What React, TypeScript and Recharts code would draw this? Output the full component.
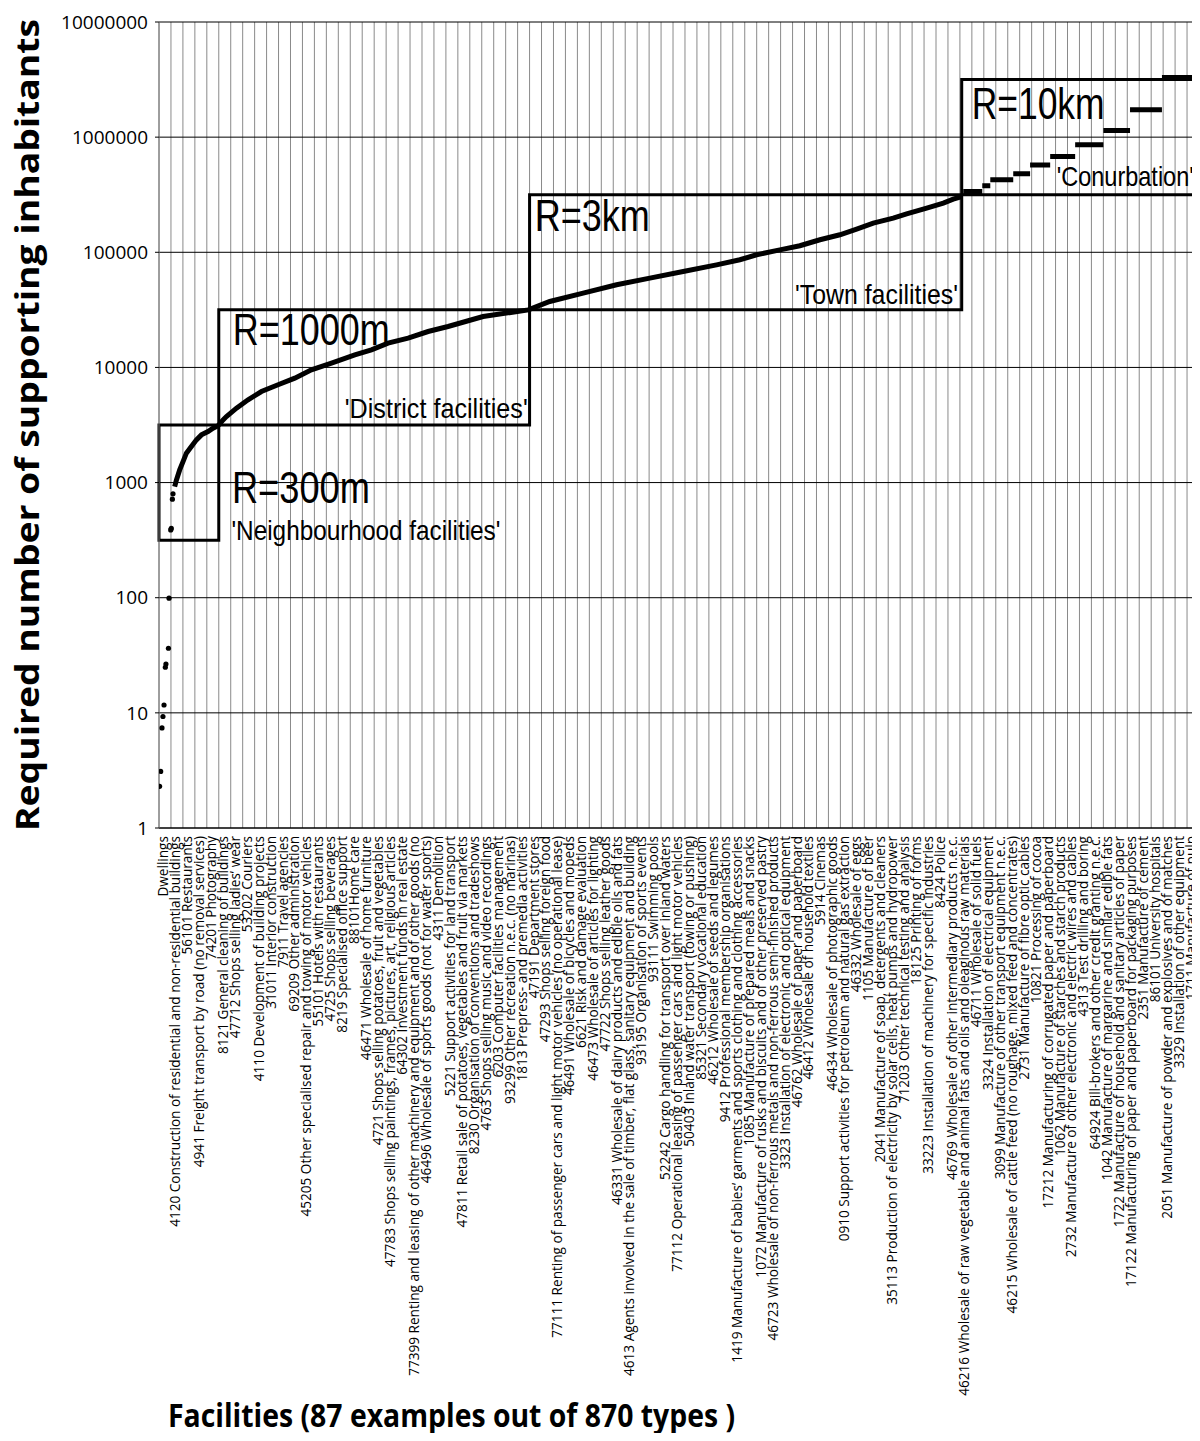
import {
  CartesianGrid,
  ComposedChart,
  Line,
  ReferenceArea,
  ReferenceDot,
  Scatter,
  XAxis,
  YAxis,
} from "recharts";

const facilityLabels = [
  "Dwellings",
  "4120 Construction of residential and non-residential buildings",
  "56101 Restaurants",
  "4941 Freight transport by road (no removal services)",
  "74201 Photography",
  "8121 General cleaning of buildings",
  "47712 Shops selling ladies’ wear",
  "53202 Couriers",
  "4110 Development of building projects",
  "31011 Interior construction",
  "7911 Travel agencies",
  "69209 Other administration",
  "45205 Other specialised repair and towing of motor vehicles",
  "55101 Hotels with restaurants",
  "4725 Shops selling beverages",
  "8219 Specialised office support",
  "88101Home care",
  "46471 Wholesale of home furniture",
  "4721 Shops selling potatoes, fruit and vegetables",
  "47783 Shops selling paintings, frames, pictures, art, religious articles",
  "64302 Investment funds in real estate",
  "77399 Renting and leasing of other machinery and equipment and of other goods (no",
  "46496 Wholesale of sports goods (not for water sports)",
  "4311 Demolition",
  "5221 Support activities for land transport",
  "47811 Retail sale of potatoes, vegetables and fruit via markets",
  "8230 Organisation of conventions and tradeshows",
  "4763 Shops selling music and video recordings",
  "6203 Computer facilities management",
  "93299 Other recreation n.e.c. (no marinas)",
  "1813 Prepress- and premedia activities",
  "47191 Department stores",
  "47293 Shops selling foreign food",
  "77111 Renting of passenger cars and light motor vehicles (no operational lease)",
  "46491 Wholesale of bicycles and mopeds",
  "6621 Risk and damage evaluation",
  "46473 Wholesale of articles for lighting",
  "47722 Shops selling leather goods",
  "46331 Wholesale of dairy products and edible oils and fats",
  "4613 Agents involved in the sale of timber, flat glass, sanitary equipment and building",
  "93195 Organisation of sports events",
  "93111 Swimming pools",
  "52242 Cargo handling for transport over inland waters",
  "77112 Operational leasing of passenger cars and light motor vehicles",
  "50403 Inland water transport (towing or pushing)",
  "85321 Secondary vocational education",
  "46212 Wholesale of seeds and legumes",
  "9412 Professional membership organisations",
  "1419 Manufacture of babies’ garments and sports clothing and clothing accessories",
  "1085 Manufacture of prepared meals and snacks",
  "1072 Manufacture of rusks and biscuits and of other preserved pastry",
  "46723 Wholesale of non-ferrous metals and non-ferrous semi-finished products",
  "3323 Installation of electronic and optical equipment",
  "46762 Wholesale of paper and paperboard",
  "46412 Wholesale of household textiles",
  "5914 Cinemas",
  "46434 Wholesale of photographic goods",
  "0910 Support activities for petroleum and natural gas extraction",
  "46332 Wholesale of eggs",
  "1105 Manufacture of beer",
  "2041 Manufacture of soap, detergents and cleaners",
  "35113 Production of electricity by solar cells, heat pumps and hydropower",
  "71203 Other technical testing and analysis",
  "18125 Printing of forms",
  "33223 Installation of machinery for specific industries",
  "8424 Police",
  "46769 Wholesale of other intermediary products n.e.c.",
  "46216 Wholesale of raw vegetable and animal fats and oils and oleaginous raw materials",
  "46711 Wholesale of solid fuels",
  "3324 Installation of electrical equipment",
  "3099 Manufacture of other transport equipment n.e.c.",
  "46215 Wholesale of cattle feed (no roughage, mixed feed and concentrates)",
  "2731 Manufacture of fibre optic cables",
  "10821 Processing of cocoa",
  "17212 Manufacturing of corrugated paper and paperboard",
  "1062 Manufacture of starches and starch products",
  "2732 Manufacture of other electronic and electric wires and cables",
  "4313 Test drilling and boring",
  "64924 Bill-brokers and other credit granting n.e.c.",
  "1042 Manufacture of margarine and similar edible fats",
  "1722 Manufacture of household and sanitary articles of paper",
  "17122 Manufacturing of paper and paperboard for packaging purposes",
  "2351 Manufacture of cement",
  "86101 University hospitals",
  "2051 Manufacture of powder and explosives and of matches",
  "3329 Installation of other equipment",
  "1711 Manufacture of pulp",
];

const yTicks = [1, 10, 100, 1000, 10000, 100000, 1000000, 10000000];

// isolated small values at the far left (position in facility units)
const lowDotPos = [0.05, 0.14, 0.25, 0.33, 0.42, 0.53, 0.58, 0.79, 0.84, 0.98, 1.03, 1.12, 1.17];
const lowDotValue = [2.3, 3.1, 7.4, 9.3, 11.7, 24.9, 26.5, 36.4, 99, 388, 400, 718, 798];

// the dense part of the curve
const curvePos = [
  1.31, 1.46, 1.73, 2.01, 2.29, 2.71, 3.13, 3.55, 4.1, 4.52, 4.94, 5.36, 5.64,
  6.48, 7.45, 8.57, 9.96, 11.36, 12.75, 14.43, 16.38, 17.77, 19.16, 20.84,
  22.51, 24.18, 27.11, 30.9, 32.69, 35.48, 38.28, 41.06, 43.85, 46.64, 48.59,
  49.99, 51.94, 53.61, 55.29, 56.96, 58.36, 59.75, 61.42, 62.54, 64.22, 65.61,
  66.44, 67.15,
];
const curveValue = [
  923, 1055, 1289, 1522, 1800, 2055, 2349, 2596, 2774, 2970, 3110, 3506, 3743,
  4425, 5230, 6175, 7065, 8075, 9530, 10890, 12860, 14220, 16260, 17960,
  20510, 22660, 27700, 31600, 37400, 44200, 52200, 59700, 68100, 77800, 86100,
  95100, 105000, 114000, 128500, 142000, 159000, 179000, 198000, 216000,
  242000, 267000, 289000, 305000,
];

// plateaus at the top end
const stepFrom = [67.28, 68.87, 69.54, 71.46, 72.87, 74.55, 76.64, 79.0, 81.23, 83.9];
const stepTo = [68.87, 69.54, 71.46, 72.87, 74.55, 76.64, 79.0, 81.23, 83.9, 87];
const stepValue = [337000, 378000, 427000, 481000, 572000, 679000, 859000, 1140000, 1730000, 3300000];

const zoneNames = ["R=300m", "R=1000m", "R=3km", "R=10km"];
const zoneCaptions = [
  "'Neighbourhood facilities'",
  "'District facilities'",
  "'Town facilities'",
  "'Conurbation'",
];
const zoneFrom = [0, 5, 31, 67.15];
const zoneTo = [5, 31, 67.15, 87];
const zoneLow = [316, 3162, 31623, 316228];
const zoneHigh = [3162, 31623, 316228, 3162278];

// where the texts sit (baseline-left, in chart units) and how wide they run
const namePos = [
  [6.1, 667],
  [6.17, 15700],
  [31.44, 151700],
  [67.98, 1436000],
];
const nameWidth = [138, 157, 115, 133];
const captionPos = [
  [6.06, 318],
  [15.54, 3630],
  [53.2, 35700],
  [75.1, 373000],
];
const captionWidth = [269, 183, 163, 137];

const annotationFont = "'Liberation Sans', Arial, sans-serif";
const sans = "'Open Sans', 'Noto Sans', sans-serif";

const lowDots = lowDotPos.map((u, i) => ({ u, v: lowDotValue[i] }));
const curve = curvePos.map((u, i) => ({ u, v: curveValue[i] }));
const steps = stepFrom.flatMap((u, i) => [
  { u, v: stepValue[i] },
  { u: stepTo[i], v: stepValue[i] },
  { u: stepTo[i], v: null },
]);
const boundaries = [...facilityLabels.map((_, i) => i), facilityLabels.length];
const centers = facilityLabels.map((_, i) => i + 0.5);

function EmptyTick() {
  return null;
}

function FacilityTick(props: any) {
  const { x, y, payload } = props;
  const label = facilityLabels[Math.floor(payload.value)];
  return (
    <text
      x={x}
      y={y}
      dy="0.22em"
      transform={`rotate(-90, ${x}, ${y})`}
      textAnchor="end"
      fontSize={13.6}
      fontFamily={sans}
      fill="#000"
    >
      {label}
    </text>
  );
}

function AnnotationText(props: any) {
  const { viewBox, text, size, width } = props;
  return (
    <text
      x={viewBox.x + viewBox.width / 2}
      y={viewBox.y + viewBox.height / 2}
      fontSize={size}
      fontFamily={annotationFont}
      textLength={width}
      lengthAdjust="spacingAndGlyphs"
      fill="#000"
    >
      {text}
    </text>
  );
}

function YTitle(props: any) {
  const { viewBox } = props;
  const x = viewBox.x + 31;
  const y = viewBox.y + viewBox.height / 2;
  return (
    <text
      x={x}
      y={y}
      transform={`rotate(-90, ${x}, ${y})`}
      textAnchor="middle"
      fontSize={33}
      fontWeight="bold"
      fontFamily={sans}
      textLength={812}
      lengthAdjust="spacingAndGlyphs"
      fill="#000"
    >
      Required number of supporting inhabitants
    </text>
  );
}

function XTitle(props: any) {
  const { viewBox } = props;
  return (
    <text
      x={viewBox.x + 9}
      y={viewBox.y + viewBox.height - 6}
      fontSize={32}
      fontWeight="bold"
      fontFamily={sans}
      textLength={567}
      lengthAdjust="spacingAndGlyphs"
      fill="#000"
    >
      Facilities (87 examples out of 870 types )
    </text>
  );
}

export default function App() {
  return (
    <div style={{ width: 1192, height: 1425, background: "#fff" }}>
      <ComposedChart
        width={1192}
        height={1425}
        margin={{ top: 14, right: 1, bottom: 0, left: 0 }}
      >
        <XAxis
          xAxisId="grid"
          type="number"
          dataKey="u"
          domain={[0, 87]}
          allowDataOverflow
          ticks={boundaries}
          interval={0}
          orientation="top"
          height={0}
          tick={EmptyTick}
          tickLine={false}
          axisLine={false}
        />
        <XAxis
          xAxisId="cat"
          type="number"
          dataKey="u"
          domain={[0, 87]}
          allowDataOverflow
          ticks={centers}
          interval={0}
          tick={<FacilityTick />}
          tickLine={false}
          axisLine={{ stroke: "#000" }}
          height={605}
          label={<XTitle />}
        />
        <YAxis
          type="number"
          dataKey="v"
          scale="log"
          domain={[1, 10000000]}
          allowDataOverflow
          ticks={yTicks}
          interval={0}
          width={151}
          tickSize={4}
          tickMargin={7}
          tick={{ fontSize: 19, fill: "#000", fontFamily: sans }}
          tickLine={{ stroke: "#000" }}
          axisLine={{ stroke: "#777" }}
          label={<YTitle />}
        />
        <CartesianGrid xAxisId="grid" horizontal={false} stroke="#8a8a8a" />
        <CartesianGrid xAxisId="cat" vertical={false} stroke="#000" />

        {zoneNames.map((name, i) => (
          <ReferenceArea
            key={name}
            xAxisId="cat"
            x1={zoneFrom[i]}
            x2={zoneTo[i]}
            y1={zoneLow[i]}
            y2={zoneHigh[i]}
            fill="none"
            fillOpacity={0}
            stroke="#000"
            strokeWidth={3}
            ifOverflow="visible"
          />
        ))}

        <Scatter
          xAxisId="cat"
          data={lowDots}
          dataKey="v"
          isAnimationActive={false}
          shape={(p: any) => <circle cx={p.cx} cy={p.cy} r={2.6} fill="#000" />}
        />
        <Line
          xAxisId="cat"
          data={curve}
          dataKey="v"
          type="linear"
          stroke="#000"
          strokeWidth={5}
          dot={false}
          isAnimationActive={false}
        />
        <Line
          xAxisId="cat"
          data={steps}
          dataKey="v"
          type="linear"
          stroke="#000"
          strokeWidth={5}
          dot={false}
          connectNulls={false}
          isAnimationActive={false}
        />

        {zoneNames.map((name, i) => (
          <ReferenceDot
            key={`n-${name}`}
            xAxisId="cat"
            x={namePos[i][0]}
            y={namePos[i][1]}
            r={1}
            fill="none"
            stroke="none"
            ifOverflow="visible"
            label={<AnnotationText text={name} size={44} width={nameWidth[i]} />}
          />
        ))}
        {zoneCaptions.map((caption, i) => (
          <ReferenceDot
            key={`c-${caption}`}
            xAxisId="cat"
            x={captionPos[i][0]}
            y={captionPos[i][1]}
            r={1}
            fill="none"
            stroke="none"
            ifOverflow="visible"
            label={<AnnotationText text={caption} size={28} width={captionWidth[i]} />}
          />
        ))}
      </ComposedChart>
    </div>
  );
}
